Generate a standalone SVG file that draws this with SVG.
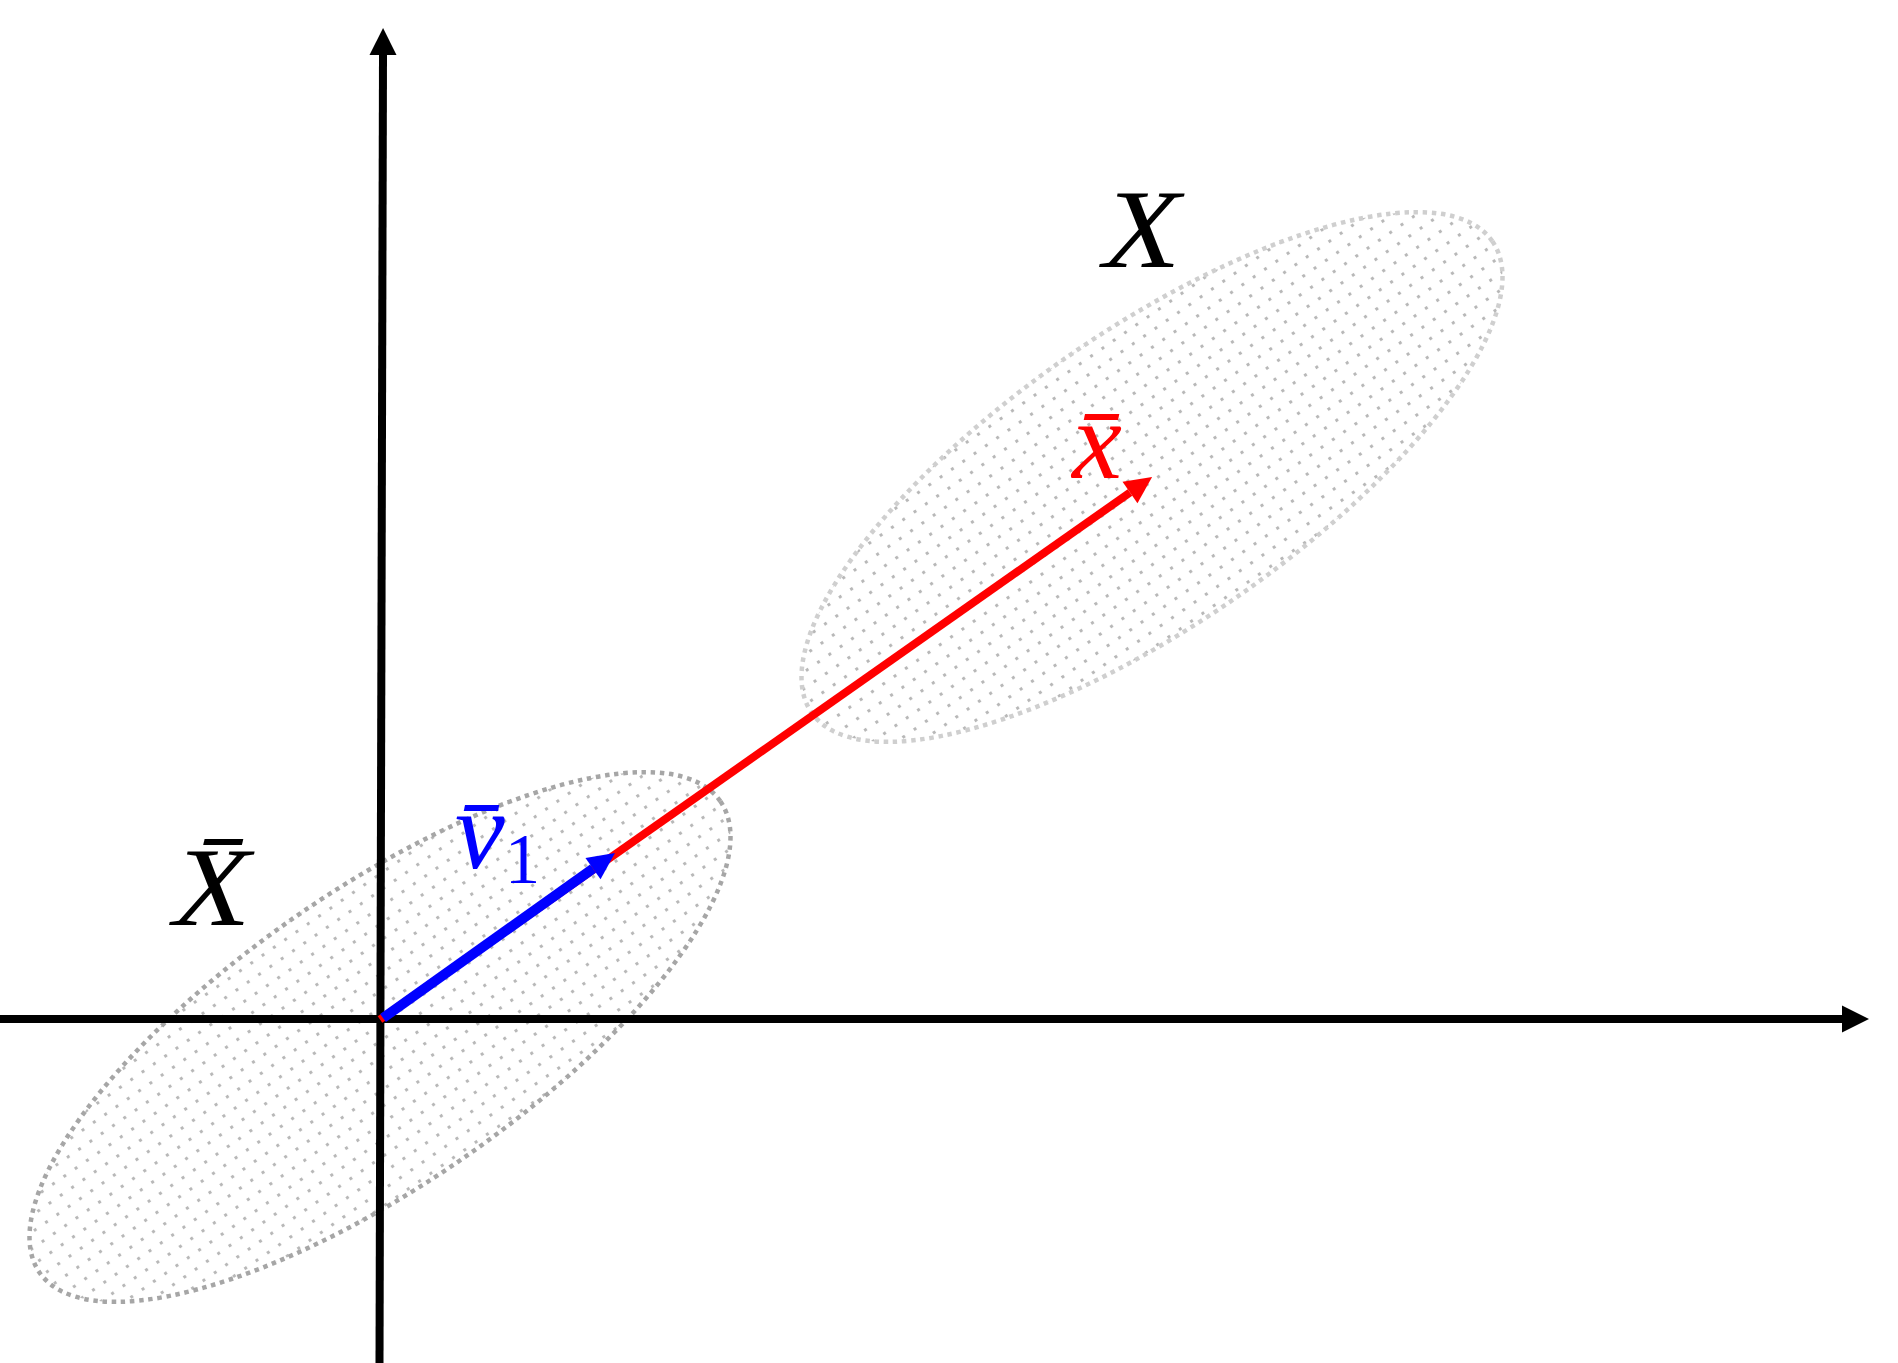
<svg xmlns="http://www.w3.org/2000/svg" width="1898" height="1363" viewBox="0 0 1898 1363">
<style>
.axis{stroke:#000;stroke-width:8;fill:none}
.vec-red{stroke:#ff0000;stroke-width:8;fill:none}
.vec-blue{stroke:#0000ff;stroke-width:10;fill:none}
.cloud{fill:url(#dots);stroke-width:4.5;stroke-dasharray:4.5 4.7}
.lbl{font-family:"Liberation Serif","Times New Roman",serif;font-style:italic}
.sub{font-family:"Liberation Serif","Times New Roman",serif;font-style:normal}
</style>
<defs>
<pattern id="dots" width="13.75" height="13.75" patternUnits="userSpaceOnUse" x="4" y="2">
<rect x="0" y="0" width="3" height="3" fill="#b8b8b8"/>
</pattern>
<marker id="ah-black" markerUnits="userSpaceOnUse" markerWidth="27" markerHeight="27" refX="0" refY="13.5" orient="auto" overflow="visible"><path d="M0,0 L27,13.5 L0,27 Z" fill="#000"/></marker>
<marker id="ah-red" markerUnits="userSpaceOnUse" markerWidth="27" markerHeight="26" refX="0" refY="13" orient="auto" overflow="visible"><path d="M0,0 L27,13 L0,26 Z" fill="#ff0000"/></marker>
<marker id="ah-blue" markerUnits="userSpaceOnUse" markerWidth="27" markerHeight="26" refX="0" refY="13" orient="auto" overflow="visible"><path d="M0,0 L27,13 L0,26 Z" fill="#0000ff"/></marker>
</defs>
<rect width="1898" height="1363" fill="#fff"/>
<g id="cloud-X">
<ellipse class="cloud" stroke="#cfcfcf" cx="0" cy="0" rx="414" ry="147" transform="translate(1152 477) rotate(-34.7)"/>
</g>
<g id="cloud-Xbar">
<ellipse class="cloud" stroke="#a6a6a6" cx="0" cy="0" rx="414" ry="147" transform="translate(380 1037) rotate(-34.7)"/>
</g>
<g id="connectors">
<line id="x-axis" class="axis" x1="0" y1="1019" x2="1842" y2="1019" marker-end="url(#ah-black)"/>
<line id="y-axis" class="axis" x1="379.5" y1="1363" x2="383" y2="55" marker-end="url(#ah-black)"/>
<line id="vec-x" class="vec-red" x1="380" y1="1019.5" x2="1130" y2="492.5" marker-end="url(#ah-red)"/>
<line id="vec-v1" class="vec-blue" x1="383" y1="1018" x2="593" y2="868.6" marker-end="url(#ah-blue)"/>
</g>
<g id="label-X">
<text class="lbl" x="0" y="0" font-size="113" text-anchor="middle" fill="#000" transform="translate(1142 267) scale(1.12 1)">X</text>
</g>
<g id="label-Xbar">
<text class="lbl" x="0" y="0" font-size="113" text-anchor="middle" fill="#000" transform="translate(212 925) scale(1.12 1)">X̄</text>
</g>
<g id="label-xbar">
<text class="lbl" x="1097" y="478" font-size="112" text-anchor="middle" fill="#ff0000">x̄</text>
</g>
<g id="label-v1">
<text x="455" y="868" fill="#0000ff"><tspan class="lbl" font-size="112">v̄</tspan><tspan class="sub" font-size="71" dy="15">1</tspan></text>
</g>
</svg>
